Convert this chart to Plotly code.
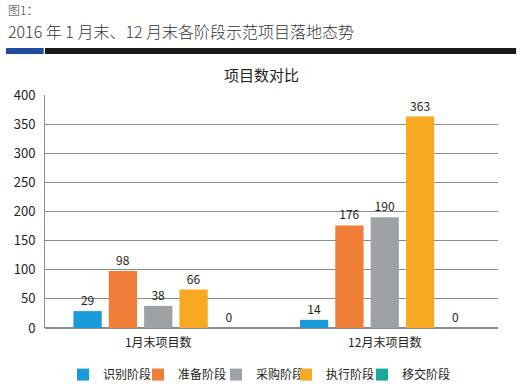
import plotly.graph_objects as go

categories = ["1月末项目数", "12月末项目数"]
series_names = ["识别阶段", "准备阶段", "采购阶段", "执行阶段", "移交阶段"]
series_values = [
    [29, 14],
    [98, 176],
    [38, 190],
    [66, 363],
    [0, 0],
]
colors = ["#1a9ad8", "#f07e38", "#9ea2a5", "#f8a921", "#1ba89a"]
y_ticks = [0, 50, 100, 150, 200, 250, 300, 350, 400]

FONT = "Noto Sans CJK SC"
legend_ids = ["legend", "legend2", "legend3", "legend4", "legend5"]
legend_px = [63, 138, 216, 286, 362]

fig = go.Figure()
for name, vals, c, lid in zip(series_names, series_values, colors, legend_ids):
    fig.add_trace(go.Bar(
        name=name, x=categories, y=vals, marker=dict(color=c, line=dict(width=0)),
        text=[str(v) for v in vals], textposition="outside",
        textfont=dict(size=12, color="#222222", family=FONT),
        cliponaxis=False, legend=lid,
    ))

legends = {}
for lid, px in zip(legend_ids, legend_px):
    legends[lid] = dict(orientation="h", x=(px - 45) / 453, xanchor="left", y=-0.2, yanchor="middle",
                        font=dict(size=12, color="#222222"), itemwidth=30, itemclick=False,
                        bgcolor="rgba(0,0,0,0)")

fig.update_layout(
    width=521, height=389,
    margin=dict(l=45, r=23, t=95, b=61, autoexpand=False),
    paper_bgcolor="white", plot_bgcolor="white",
    barmode="group", bargap=0.22, bargroupgap=0.2,
    font=dict(family=FONT, color="#222222", size=12),
    showlegend=True,
    xaxis=dict(showgrid=False, showline=False, ticks="outside", ticklen=4, tickcolor="rgba(0,0,0,0)",
               tickfont=dict(size=12, color="#222222")),
    yaxis=dict(range=[0, 400], tickvals=y_ticks, showgrid=True, gridcolor="#8c8c8c", gridwidth=1,
               showline=True, linecolor="#8c8c8c", linewidth=1, zeroline=True, zerolinecolor="#8c8c8c",
               ticks="outside", ticklen=6, tickcolor="rgba(0,0,0,0)", tickfont=dict(size=13, color="#222222")),
    **legends,
)

fig.add_annotation(text="项目数对比", xref="paper", yref="paper", x=0.479, y=1.086,
                   xanchor="center", yanchor="middle", showarrow=False,
                   font=dict(size=15, color="#222222", family=FONT))
fig.add_annotation(text="图1：", xref="paper", yref="paper", x=-0.087, y=1.365,
                   xanchor="left", yanchor="middle", showarrow=False,
                   font=dict(size=12, color="#333333", family=FONT, weight=300))
fig.add_annotation(text="2016 年 1 月末、12 月末各阶段示范项目落地态势", xref="paper", yref="paper",
                   x=-0.087, y=1.275, xanchor="left", yanchor="middle", showarrow=False,
                   font=dict(size=16, color="#333333", family=FONT, weight=300))
fig.add_shape(type="rect", xref="paper", yref="paper", x0=-0.086, x1=-0.003, y0=1.202, y1=1.176,
              fillcolor="#1f4aa0", line=dict(width=0))
fig.add_shape(type="rect", xref="paper", yref="paper", x0=0.0, x1=1.04, y0=1.202, y1=1.176,
              fillcolor="#1a1a1a", line=dict(width=0))

fig.write_html("out.html", config={"displayModeBar": False},
               post_script="document.body.style.margin='0';")
